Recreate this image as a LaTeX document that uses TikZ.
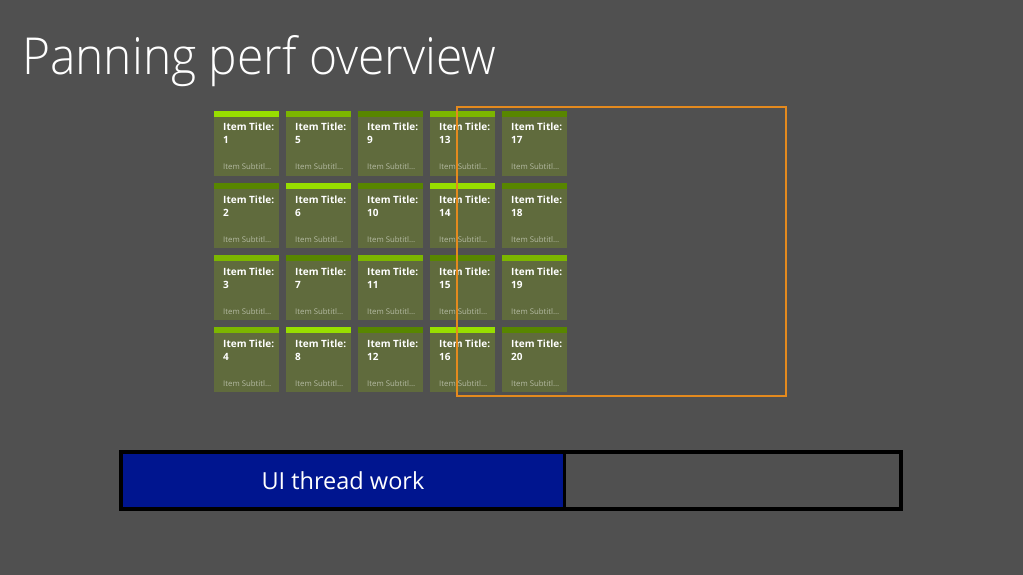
\documentclass[tikz,border=0pt]{standalone}
\usepackage{fontspec}
\setmainfont{Open Sans}
\newfontfamily\lightfont[FakeStretch=0.94]{Open Sans Light}
\definecolor{bg}{RGB}{80,80,80}
\definecolor{tilebody}{RGB}{96,107,61}
\definecolor{barB}{RGB}{152,222,0}
\definecolor{barM}{RGB}{124,182,0}
\definecolor{barD}{RGB}{88,134,0}
\definecolor{subgray}{RGB}{180,186,162}
\definecolor{viewor}{RGB}{228,138,30}
\definecolor{uiblue}{RGB}{0,21,143}
\tikzset{
  tile/.style={fill=tilebody, minimum width=65pt, minimum height=65pt, inner sep=0pt, outer sep=0pt, anchor=north west},
  ttl/.style={text=white, font=\bfseries\fontsize{10}{12}\selectfont, inner sep=0pt, anchor=base west},
  subttl/.style={text=subgray, font=\fontsize{7.8}{9}\selectfont, inner sep=0pt, anchor=base west},
}
\begin{document}
\begin{tikzpicture}[x=1pt,y=-1pt]
\fill[bg] (0,0) rectangle (1023,575);
\useasboundingbox (0,0) rectangle (1023,575);
\node[anchor=base west, font=\lightfont\fontsize{51}{60}\selectfont, text=white, inner sep=0pt] (title) at (22,75) {Panning perf overview};
\foreach \n/\bc in {1/B,2/D,3/M,4/M,5/M,6/B,7/D,8/B,9/D,10/D,11/M,12/D,13/M,14/B,15/D,16/B,17/D,18/D,19/M,20/D}{
  \pgfmathtruncatemacro\cc{(\n-1)/4}
  \pgfmathtruncatemacro\rr{mod(\n-1,4)}
  \node[tile] (t\n) at ({214+72*\cc},{111+72*\rr}) {};
  \fill[bar\bc] (t\n.north west) rectangle ([yshift=-6pt]t\n.north east);
  \node[ttl] (a\n) at ([xshift=9pt,yshift=-20pt]t\n.north west) {Item Title:};
  \node[ttl] (b\n) at ([xshift=9pt,yshift=-33pt]t\n.north west) {\n};
  \node[subttl] (c\n) at ([xshift=9pt,yshift=-59pt]t\n.north west) {Item Subtitl…};
}
\node[draw=viewor, line width=1.5pt, minimum width=329pt, minimum height=289pt, inner sep=0pt, outer sep=0pt, anchor=north west] (view) at (457,107) {};
\node[draw=black, fill=bg, line width=4pt, minimum width=780pt, minimum height=57pt, inner sep=0pt, outer sep=0pt, anchor=north west] (track) at (121,452) {};
\node[fill=uiblue, text=white, font=\fontsize{23.5}{28}\selectfont, minimum width=440pt, minimum height=53pt, inner sep=0pt, outer sep=0pt, anchor=north west] (ui) at (123,454) {UI thread work};
\draw[line width=3pt] ([xshift=1.5pt]ui.north east) -- ([xshift=1.5pt]ui.south east);
\end{tikzpicture}
\end{document}
